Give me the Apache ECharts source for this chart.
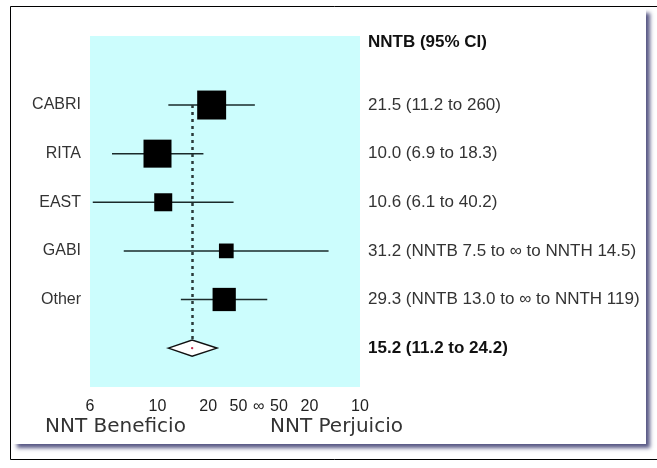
<!DOCTYPE html>
<html>
<head>
<meta charset="utf-8">
<script src="https://cdn.jsdelivr.net/npm/echarts@6/dist/echarts.min.js"></script>
<style>
  html, body { margin: 0; padding: 0; background: #fff; }
  #chart { width: 657px; height: 468px; }
</style>
</head>
<body>
<div id="chart"></div>
<script>
// estudios
var studies = ['CABRI', 'RITA', 'EAST', 'GABI', 'Other'];
// NNTB puntual
var nntPoint = [21.5, 10.0, 10.6, 31.2, 29.3];
// limite inferior del IC (NNTB)
var ciLower = [11.2, 6.9, 6.1, 7.5, 13.0];
// limite superior del IC (negativo = NNTH)
var ciUpper = [260, 18.3, 40.2, -14.5, -119];
// peso de cada estudio (%)
var weights = [31, 29, 12, 8, 20];
// textos de la columna derecha
var ciText = ['21.5 (11.2 to 260)', '10.0 (6.9 to 18.3)', '10.6 (6.1 to 40.2)',
  '31.2 (NNTB 7.5 to \u221e to NNTH 14.5)', '29.3 (NNTB 13.0 to \u221e to NNTH 119)'];
var headerText = 'NNTB (95% CI)';
// resultado combinado
var pooled = [15.2, 11.2, 24.2];
var pooledText = '15.2 (11.2 to 24.2)';
// marcas del eje (NNT, negativo = NNTH)
var tickNNT = [6, 10, 20, 50, Infinity, -50, -20, -10];
var axisNames = ['NNT Beneficio', 'NNT Perjuicio'];

function arr(n) { return n === Infinity ? 0 : 1 / n; }

var narrow = "'Liberation Sans Narrow', 'Arial Narrow', 'Liberation Sans', sans-serif";
var HEADER_ROW = -0.28;
var POOLED_ROW = studies.length + 1;

var myChart = echarts.init(document.getElementById('chart'));

var boxData = [], ciData = [];
for (var i = 0; i < studies.length; i++) {
  boxData.push({ value: [arr(nntPoint[i]), i + 1], symbolSize: Math.sqrt(weights[i]) * 5.2 });
  ciData.push([arr(ciLower[i]), arr(ciUpper[i]), i + 1]);
}
var rightLabels = {};
rightLabels[HEADER_ROW] = '{b|' + headerText + '}';
for (var i = 0; i < studies.length; i++) rightLabels[i + 1] = ciText[i];
rightLabels[POOLED_ROW] = '{b|' + pooledText + '}';

var option = {
  animation: false,
  graphic: [
    { type: 'rect', shape: { x: 10.5, y: 6.5, width: 660, height: 453 },
      style: { fill: '#fff', stroke: '#000', lineWidth: 1 }, z: -10 },
    { type: 'rect', shape: { x: 13, y: 9, width: 633, height: 435 },
      style: { fill: '#fff', shadowColor: 'rgba(70,70,120,0.9)', shadowBlur: 4, shadowOffsetX: 4, shadowOffsetY: 4 }, z: -9 },
    { type: 'text', left: 45, top: 417,
      style: { text: axisNames[0], fontFamily: 'DejaVu Sans', fontSize: 20, fill: '#333' } },
    { type: 'text', left: 270, top: 417,
      style: { text: axisNames[1], fontFamily: 'DejaVu Sans', fontSize: 20, fill: '#333' } }
  ],
  grid: {
    left: 90, right: 297, top: 36, bottom: 81,
    show: true, backgroundColor: '#ccfdfd', borderWidth: 0
  },
  xAxis: {
    type: 'value', inverse: true,
    min: -0.1, max: 1 / 6,
    axisLine: { show: false }, axisTick: { show: false }, splitLine: { show: false },
    axisLabel: {
      customValues: tickNNT.map(arr),
      margin: 12, fontFamily: narrow, fontSize: 16, color: '#222',
      formatter: function (v) {
        if (Math.abs(v) < 1e-9) return '\u221e';
        return String(Math.round(1 / Math.abs(v)));
      }
    }
  },
  yAxis: [{
    type: 'value', inverse: true, min: -0.42, max: 6.8,
    axisLine: { show: false }, axisTick: { show: false }, splitLine: { show: false },
    axisLabel: {
      customValues: studies.map(function (s, i) { return i + 1; }),
      margin: 9, fontFamily: narrow, fontSize: 16, color: '#333',
      formatter: function (v) { return studies[Math.round(v) - 1] || ''; }
    }
  }, {
    type: 'value', inverse: true, min: -0.42, max: 6.8, position: 'right',
    axisLine: { show: false }, axisTick: { show: false }, splitLine: { show: false },
    axisLabel: {
      customValues: [HEADER_ROW, 1, 2, 3, 4, 5, POOLED_ROW],
      margin: 8, fontFamily: narrow, fontSize: 17, color: '#333',
      formatter: function (v) {
        if (Math.abs(v - HEADER_ROW) < 1e-6) return rightLabels[HEADER_ROW];
        return rightLabels[Math.round(v)] || '';
      },
      rich: { b: { fontFamily: narrow, fontSize: 17, fontWeight: 'bold', color: '#111' } }
    }
  }],
  series: [{
    // intervalos de confianza
    type: 'custom',
    renderItem: function (params, api) {
      var p1 = api.coord([api.value(0), api.value(2)]);
      var p2 = api.coord([api.value(1), api.value(2)]);
      return { type: 'line', shape: { x1: p1[0], y1: p1[1], x2: p2[0], y2: p2[1] },
        style: { stroke: '#1a2a2a', lineWidth: 1.5 } };
    },
    data: ciData, z: 3
  }, {
    // estudios
    type: 'scatter', symbol: 'rect',
    itemStyle: { color: '#000', opacity: 1 },
    data: boxData, z: 4,
    markLine: {
      silent: true, symbol: 'none', label: { show: false },
      data: [
        [{ coord: [0, -0.46] }, { coord: [0, 6.82] }],
        [{ coord: [arr(pooled[0]), 1], lineStyle: { type: [3, 4], width: 2.5, color: '#2a3a3a' } },
         { coord: [arr(pooled[0]), POOLED_ROW - 0.16] }]
      ],
      lineStyle: { color: '#222', width: 1.5, type: 'solid' }
    }
  }, {
    // resultado combinado
    type: 'custom',
    renderItem: function (params, api) {
      var y = api.value(3);
      var c = api.coord([api.value(0), y]);
      var l = api.coord([api.value(1), y]);
      var r = api.coord([api.value(2), y]);
      var h = 8;
      return { type: 'group', children: [
        { type: 'polygon', shape: { points: [[l[0], c[1]], [c[0], c[1] - h], [r[0], c[1]], [c[0], c[1] + h]] },
          style: { fill: '#fff', stroke: '#111', lineWidth: 1.5 } },
        { type: 'circle', shape: { cx: c[0], cy: c[1], r: 1.2 }, style: { fill: '#c03050' } }
      ] };
    },
    data: [[arr(pooled[0]), arr(pooled[1]), arr(pooled[2]), POOLED_ROW]], z: 5
  }]
};
myChart.setOption(option);
</script>
</body>
</html>
